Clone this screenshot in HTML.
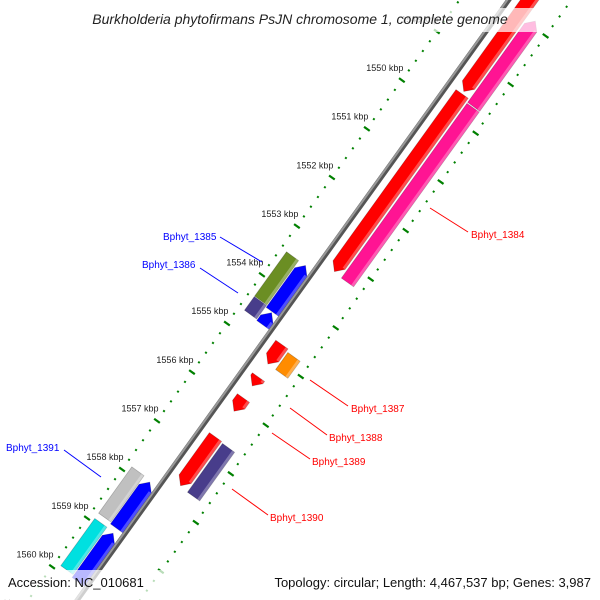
<!DOCTYPE html>
<html><head><meta charset="utf-8"><style>
html,body{margin:0;padding:0;background:#fff;width:600px;height:600px;overflow:hidden;}
svg{display:block;font-family:"Liberation Sans","DejaVu Sans",sans-serif;overflow:hidden;}
</style></head><body>
<svg id="map" width="600" height="600" viewBox="0 0 600 600">
<g id="ticks"></g>
<g id="backbone"></g>
<g id="features"></g>
<g id="labels"></g>
<rect x="62" y="8" width="478" height="24" fill="#fff" fill-opacity="0.72"/>
<text x="300" y="24" text-anchor="middle" font-size="14" font-style="italic" fill="#222">Burkholderia phytofirmans PsJN chromosome 1, complete genome</text>
<rect x="0" y="570" width="600" height="30" fill="#fff" fill-opacity="0.72"/>
<text x="8" y="587" font-size="13" fill="#111">Accession: NC_010681</text>
<text x="591" y="587" text-anchor="end" font-size="13" fill="#111">Topology: circular; Length: 4,467,537 bp; Genes: 3,987</text>
</svg>
<script>
const tickKbp = [1548,1549,1550,1551,1552,1553,1554,1555,1556,1557,1558,1559,1560,1561];
const geneNames = ["Bphyt_1384a","Bphyt_1384","Bphyt_pink_a","Bphyt_pink_b","Bphyt_1385","Bphyt_1385b","Bphyt_1386","Bphyt_1386b","Bphyt_1387r","Bphyt_1387","Bphyt_1388","Bphyt_1389","Bphyt_1390r","Bphyt_1390","Bphyt_1391","Bphyt_1391b","Bphyt_1392","Bphyt_1392b"];
const geneStart = [1547.0,1549.6,1547.9,1549.68,1553.45,1553.45,1554.37,1554.42,1554.75,1554.8,1555.42,1555.85,1556.65,1556.67,1557.87,1557.9,1558.93,1558.95];
const geneEnd   = [1549.55,1553.25,1549.66,1553.27,1554.36,1554.4,1554.65,1554.67,1555.15,1555.15,1555.6,1556.12,1557.65,1557.67,1558.82,1558.85,1559.9,1559.95];
const geneRow   = [-1,-1,-2,-2,2,1,2,1,-1,-2,-1,-1,-1,-2,2,1,2,1];
const geneDir   = [1,1,-1,0,0,-1,0,-1,1,0,1,1,1,0,0,-1,0,-1];
const geneColor = ["#ff0000","#ff0000","#ff1493","#ff1493","#6b8e23","#0000ff","#483d8b","#0000ff","#ff0000","#ff8c00","#ff0000","#ff0000","#ff0000","#483d8b","#c0c0c0","#0000ff","#00e0e0","#0000ff"];
const NS='http://www.w3.org/2000/svg';
const P0=[259.4,346.8], U=[-0.583,0.811], N=[-0.811,-0.583], PX=60;
const rowOff={"1":10,"2":26,"-1":-17,"-2":-34};
function pt(s,off){return [P0[0]+(s-1555)*PX*U[0]+off*N[0], P0[1]+(s-1555)*PX*U[1]+off*N[1]];}
function el(tag,attrs,parent){const e=document.createElementNS(NS,tag);for(const k in attrs)e.setAttribute(k,attrs[k]);parent.appendChild(e);return e;}
function ps(a){return a.map(p=>p[0].toFixed(1)+','+p[1].toFixed(1)).join(' ');}
const tg=document.getElementById('ticks');
for(let s=1547;s<=1561.001;s+=0.2){
  const isMaj=Math.abs(s-Math.round(s))<0.01;
  [40,-51].forEach(off=>{
    const h=isMaj?3.5:1;
    const a=pt(s,off+h),b=pt(s,off-h);
    const l=el('line',{x1:a[0],y1:a[1],x2:b[0],y2:b[1],stroke:'#008000','stroke-width':isMaj?2.2:2},tg);
    
    
  });
}
tickKbp.forEach(k=>{
  const p=pt(k,61);
  const t=el('text',{x:p[0],y:p[1]+3,'text-anchor':'middle','font-size':9,fill:'#222'},tg);
  t.textContent=k+' kbp';
  
  
});
const bg=document.getElementById('backbone');
[[2.5,'#555'],[1.2,'#999']].forEach(([o,c],i)=>{
  const a=pt(1546.5,i?o:0),b=pt(1560.8,i?o:0);
  const l=el('line',{x1:a[0],y1:a[1],x2:b[0],y2:b[1],stroke:c,'stroke-width':i?2:5},bg);
  
  
});
const fg=document.getElementById('features');
const W=7.5, HEAD=8/PX;
geneNames.forEach((nm,i)=>{
  const s1=geneStart[i],s2=geneEnd[i],off=rowOff[geneRow[i]],d=geneDir[i];
  let poly;
  if(d===1){const hb=Math.max(s1,s2-HEAD);poly=[pt(s1,off+W),pt(hb,off+W),pt(s2,off),pt(hb,off-W),pt(s1,off-W)];}
  else if(d===-1){const hb=Math.min(s2,s1+HEAD);poly=[pt(s1,off),pt(hb,off+W),pt(s2,off+W),pt(s2,off-W),pt(hb,off-W)];}
  else poly=[pt(s1,off+W),pt(s2,off+W),pt(s2,off-W),pt(s1,off-W)];
  const g=el('g',{},fg);
  
  
  el('polygon',{points:ps(poly),fill:geneColor[i],stroke:'rgba(0,0,0,0.25)','stroke-width':0.7},g);
  const sa=s1+(d===-1?HEAD:0), sb=s2-(d===1?HEAD:0);
  if(sb>sa) el('polygon',{points:ps([pt(sa,off-W+3),pt(sb,off-W+3),pt(sb,off-W),pt(sa,off-W)]),fill:'#fff','fill-opacity':0.3},g);
});
const labelText=["Bphyt_1384","Bphyt_1385","Bphyt_1386","Bphyt_1387","Bphyt_1388","Bphyt_1389","Bphyt_1390","Bphyt_1391"];
const labelX=[471,163,142,351,329,312,270,6];
const labelY=[238,240,268,412,441,465,521,451];
const labelColor=["#f00","#00f","#00f","#f00","#f00","#f00","#f00","#00f"];
const leader=[[430,208,468,232],[220,237,262,262],[200,268,238,293],[310,380,348,406],[290,408,327,435],[272,433,310,459],[232,489,268,515],[64,450,101,477]];
const lg=document.getElementById('labels');
labelText.forEach((t,i)=>{
  const l=leader[i];
  const ln=el('line',{x1:l[0],y1:l[1],x2:l[2],y2:l[3],stroke:labelColor[i],'stroke-width':1},lg);
  
  
  const tx=el('text',{x:labelX[i],y:labelY[i],'font-size':10,fill:labelColor[i]},lg);
  tx.textContent=t;
  
  
});
</script>
</body></html>
